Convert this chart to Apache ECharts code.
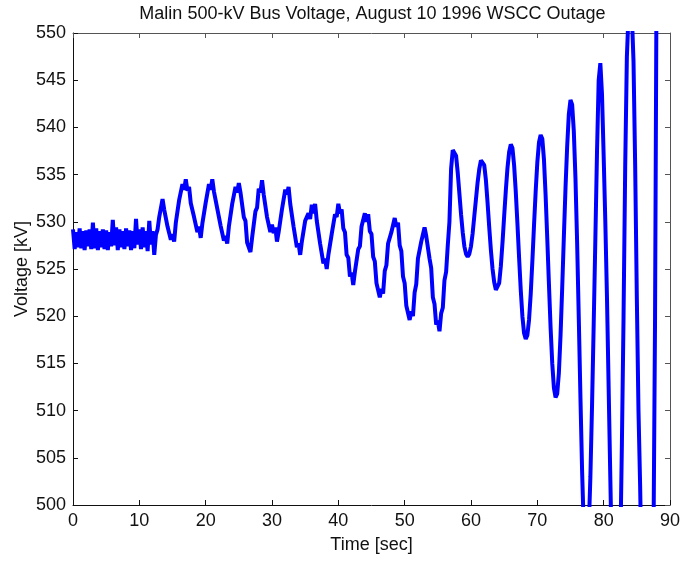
<!DOCTYPE html>
<html>
<head>
<meta charset="utf-8">
<title>Malin 500-kV Bus Voltage</title>
<script src="https://cdn.jsdelivr.net/npm/echarts@6/dist/echarts.min.js"></script>
<style>
  html, body { margin: 0; padding: 0; background: #fff; }
  #chart { width: 683px; height: 561px; }
</style>
</head>
<body>
<div id="chart"></div>
<script>
// sample grid: one reading every 0.25 s, starting at t = 0
const startTime = 0
const sampleStep = 0.25

// bus voltage [kV], one row per second
// (up to ~56 s the trace is noisy, so samples swing above/below the trend)
const voltage = [
  529.2, 527.1, 528.9, 527.3,  // 0 s
  529.3, 527.2, 529.0, 527.0,
  529.1, 527.4, 529.2, 527.1,
  529.9, 527.2, 529.3, 527.0,
  529.0, 527.3, 529.2, 527.1,
  529.1, 527.0, 528.9, 527.4,  // 5 s
  530.2, 527.5, 529.4, 527.0,
  529.2, 527.3, 529.0, 527.1,
  529.3, 527.4, 529.1, 527.0,
  529.0, 527.2, 530.3, 527.6,
  529.2, 527.1, 529.4, 527.3,  // 10 s
  529.0, 526.9, 530.1, 527.6,
  529.0, 526.5, 528.6, 529.2,
  530.5, 530.7, 532.4, 531.3,
  531.5, 529.5, 529.7, 528.1,
  528.7, 527.9, 529.9, 530.1,  // 15 s
  532.3, 532.4, 534.0, 533.4,
  534.5, 533.3, 533.7, 532.0,
  532.2, 530.5, 530.7, 528.9,
  529.5, 528.3, 529.8, 529.8,
  532.0, 532.2, 534.0, 533.4,  // 20 s
  534.5, 533.2, 533.4, 531.4,
  531.5, 529.6, 529.7, 528.0,
  528.5, 527.7, 529.5, 529.7,
  531.9, 532.0, 533.7, 533.1,
  534.1, 533.1, 533.0, 530.5,  // 25 s
  530.1, 527.8, 528.0, 526.8,
  528.3, 528.5, 531.1, 531.5,
  533.5, 533.1, 534.4, 532.9,
  532.7, 530.5, 530.5, 528.9,
  529.7, 528.8, 529.4, 527.9,  // 30 s
  528.9, 528.9, 531.3, 531.5,
  533.4, 532.9, 533.7, 531.9,
  531.8, 529.5, 529.3, 527.3,
  527.7, 526.5, 527.9, 527.9,
  530.1, 529.9, 530.9, 530.3,  // 35 s
  531.8, 530.9, 531.9, 530.1,
  530.0, 527.7, 527.5, 525.6,
  526.1, 525.0, 526.5, 526.5,
  528.7, 528.8, 530.8, 530.5,
  531.9, 530.9, 531.3, 529.3,  // 40 s
  528.9, 526.5, 526.2, 524.2,
  524.6, 523.3, 524.7, 524.8,
  527.1, 527.4, 529.5, 529.4,
  530.9, 530.0, 530.8, 529.0,
  528.7, 526.3, 525.8, 523.5,  // 45 s
  523.5, 522.0, 522.9, 522.4,
  524.8, 525.4, 527.7, 527.5,
  528.9, 528.7, 530.4, 529.5,
  529.9, 527.5, 526.9, 524.2,
  523.5, 521.1, 521.1, 519.6,  // 50 s
  520.5, 520.0, 522.5, 523.4,
  526.1, 526.3, 527.9, 527.8,
  529.4, 528.5, 528.7, 526.1,
  525.1, 522.0, 521.3, 519.1,
  519.5, 518.4, 520.3, 520.9,  // 55 s
  523.8, 524.7, 527.5, 530.0,
  535.6, 537.6, 537.8, 537.0,
  535.2, 533.0, 530.8, 528.9,
  527.4, 526.6, 526.3, 526.6,
  527.4, 528.8, 530.6, 532.4,  // 60 s
  534.2, 535.6, 536.5, 536.7,
  536.0, 534.4, 532.0, 529.4,
  527.0, 525.0, 523.6, 522.8,
  522.7, 523.5, 525.3, 527.8,
  530.6, 533.3, 535.7, 537.4,  // 65 s
  538.2, 537.8, 536.0, 533.2,
  529.8, 526.2, 522.8, 520.0,
  518.2, 517.6, 518.0, 519.6,
  522.3, 525.8, 529.6, 533.2,
  536.3, 538.4, 539.2, 538.8,  // 70 s
  536.6, 532.8, 528.2, 523.4,
  518.8, 515.0, 512.4, 511.4,
  511.8, 514.0, 518.0, 523.0,
  528.4, 533.6, 538.0, 541.4,
  542.9, 542.4, 539.6, 534.6,  // 75 s
  527.8, 519.8, 511.4, 503.6,
  497.6, 494.4, 494.2, 497.4,
  503.0, 510.6, 519.2, 528.2,
  537.5, 545.0, 546.8, 543.5,
  537.0, 530.0, 522.0, 512.5,  // 80 s
  503.0, 494.0, 486.0, 481.5,
  481.5, 486.0, 495.0, 506.5,
  520.0, 536.0, 547.5, 552.0,
  553.5, 552.0, 547.0, 536.0,
  522.0, 510.0, 502.0, 492.0,  // 85 s
  478.0, 466.0, 460.0, 457.0,
  458.0, 475.0, 495.0, 520.0,
  560.0, 600.0
]

const titleText = 'Malin 500-kV Bus Voltage, August 10 1996 WSCC Outage'
const xName = 'Time [sec]'
const yName = 'Voltage [kV]'

const points = voltage.map((v, i) => [startTime + i * sampleStep, v])

const FONT = 'Liberation Sans, Arial, sans-serif'
const INK = '#111'

// plot box in pixels
const GRID = { left: 73, right: 11, top: 33, bottom: 56 }
const plotCenter = GRID.left + (683 - GRID.left - GRID.right) / 2

const chart = echarts.init(document.getElementById('chart'))

// top / right edges of the box, ticks only
const boxAxis = {
  axisLine: { show: true, onZero: false, lineStyle: { color: '#555', width: 1 } },
  axisTick: { show: true, inside: true, length: 5, lineStyle: { color: '#555' } },
  axisLabel: { show: false },
  splitLine: { show: false }
}

chart.setOption({
  animation: false,
  graphic: [{
    type: 'text',
    x: plotCenter,
    y: 14,
    style: {
      text: titleText,
      fill: INK,
      font: '18px ' + FONT,
      textAlign: 'center',
      textVerticalAlign: 'middle'
    }
  }],
  grid: GRID,
  xAxis: [
    {
      type: 'value',
      min: 0, max: 90, interval: 10,
      name: xName, nameLocation: 'middle', nameGap: 31,
      nameMoveOverlap: false,
      nameTextStyle: { fontFamily: FONT, fontSize: 18, color: INK },
      axisLine: { onZero: false, lineStyle: { color: INK, width: 1 } },
      axisTick: { show: true, inside: true, length: 5, lineStyle: { color: INK } },
      axisLabel: { fontFamily: FONT, fontSize: 18, color: INK, margin: 7 },
      splitLine: { show: false }
    },
    Object.assign({ type: 'value', position: 'top', min: 0, max: 90, interval: 10 }, boxAxis)
  ],
  yAxis: [
    {
      type: 'value',
      min: 500, max: 550, interval: 5,
      name: yName, nameLocation: 'middle', nameGap: 42,
      nameMoveOverlap: false,
      nameTextStyle: { fontFamily: FONT, fontSize: 18, color: INK },
      axisLine: { show: true, onZero: false, lineStyle: { color: INK, width: 1 } },
      axisTick: { show: true, inside: true, length: 5, lineStyle: { color: INK } },
      axisLabel: { fontFamily: FONT, fontSize: 18, color: INK, margin: 7 },
      splitLine: { show: false }
    },
    Object.assign({ type: 'value', position: 'right', min: 500, max: 550, interval: 5 }, boxAxis)
  ],
  series: [{
    type: 'line',
    data: points,
    showSymbol: false,
    clip: true,
    lineStyle: { color: '#0000ff', width: 4 },
    z: 1
  }]
})
</script>
</body>
</html>
